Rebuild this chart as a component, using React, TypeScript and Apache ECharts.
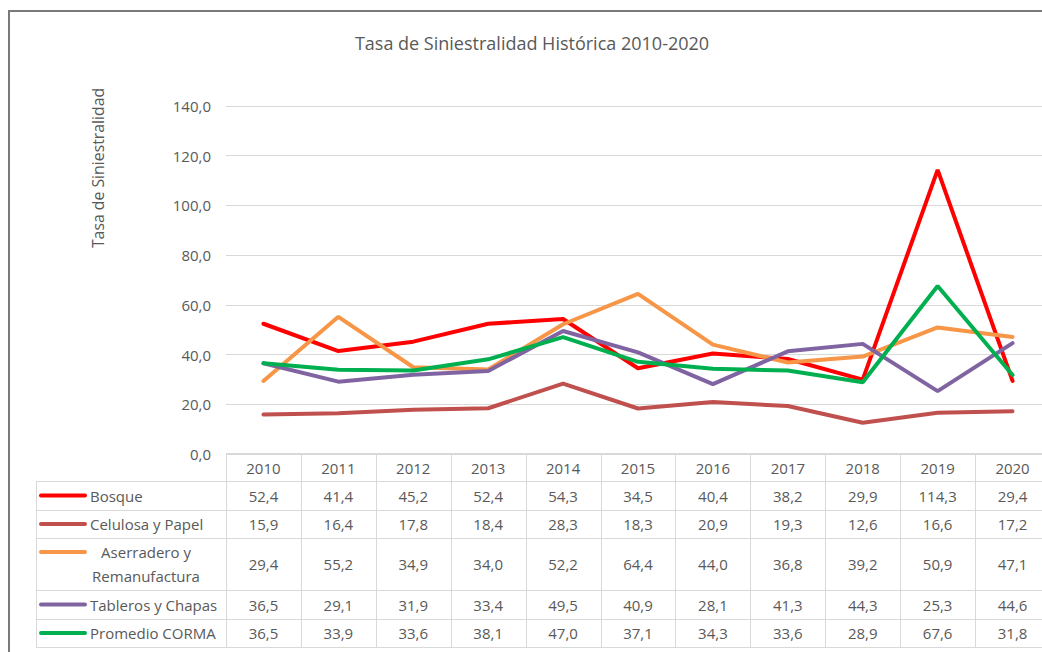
import React, { useEffect, useRef } from "react";
import * as echarts from "echarts";

const years = ["2010", "2011", "2012", "2013", "2014", "2015", "2016", "2017", "2018", "2019", "2020"];
const bosque = [52.4, 41.4, 45.2, 52.4, 54.3, 34.5, 40.4, 38.2, 29.9, 114.3, 29.4];
const celulosa = [15.9, 16.4, 17.8, 18.4, 28.3, 18.3, 20.9, 19.3, 12.6, 16.6, 17.2];
const aserradero = [29.4, 55.2, 34.9, 34.0, 52.2, 64.4, 44.0, 36.8, 39.2, 50.9, 47.1];
const tableros = [36.5, 29.1, 31.9, 33.4, 49.5, 40.9, 28.1, 41.3, 44.3, 25.3, 44.6];
const promedio = [36.5, 33.9, 33.6, 38.1, 47.0, 37.1, 34.3, 33.6, 28.9, 67.6, 31.8];

const seriesNames = ["Bosque", "Celulosa y Papel", "Aserradero y Remanufactura", "Tableros y Chapas", "Promedio CORMA"];
const seriesData = [bosque, celulosa, aserradero, tableros, promedio];
const seriesColors = ["#FF0000", "#C0504D", "#F79646", "#8064A2", "#00B050"];
const legendLines = [["Bosque"], ["Celulosa y Papel"], ["Aserradero y", "Remanufactura"], ["Tableros y Chapas"], ["Promedio CORMA"]];

const yTickMax = 140;
const yTickStep = 20;

const FONT = "Open Sans";
const TXT = "#595959";
const GRIDC = "#d9d9d9";

const fmt = (v: number) => v.toFixed(1).replace(".", ",");

export default function App() {
  const ref = useRef<HTMLDivElement>(null);
  useEffect(() => {
    if (!ref.current) return;
    const chart = echarts.init(ref.current, null, { renderer: "svg" });
    const gridTop = 106;
    const gridH = 348;
    const gridLeft = 226;
    const gridW = 824;
    chart.setOption({
      animation: false,
      backgroundColor: "#ffffff",
      textStyle: { fontFamily: FONT },
      title: {
        text: "Tasa de Siniestralidad Histórica 2010-2020",
        left: 527,
        top: 29,
        textAlign: "center",
        textStyle: { color: TXT, fontSize: 18, fontWeight: "normal", fontFamily: FONT },
      },
      grid: { left: gridLeft, top: gridTop, width: gridW, height: gridH, containLabel: false },
      xAxis: {
        type: "category",
        data: years,
        boundaryGap: true,
        axisLine: { show: false },
        axisTick: { show: false },
        axisLabel: { show: false },
        splitLine: { show: false },
      },
      yAxis: {
        type: "value",
        min: 0,
        max: yTickMax,
        interval: yTickStep,
        axisLine: { show: false },
        axisTick: { show: false },
        axisLabel: {
          color: TXT,
          fontSize: 15,
          fontFamily: FONT,
          margin: 15,
          formatter: (v: number) => fmt(v),
        },
        splitLine: { lineStyle: { color: GRIDC, width: 1 } },
      },
      series: seriesNames.map((name, i) => ({
        name,
        type: "line",
        data: seriesData[i],
        symbol: "none",
        lineStyle: { color: seriesColors[i], width: 4, cap: "round" },
        itemStyle: { color: seriesColors[i] },
        z: 2 + i,
      })),
    });

    const xs = years.map((y) => chart.convertToPixel({ xAxisIndex: 0 }, y) as number);
    const colW = xs.length > 1 ? xs[1] - xs[0] : gridW;
    const headerTop = gridTop + gridH;
    const rowBounds = [481, 510, 538, 590, 619, 647];
    const tableLeft = 36;
    const rightEdge = gridLeft + gridW;
    const els: any[] = [];
    const hline = (x1: number, x2: number, y: number) =>
      els.push({ type: "line", shape: { x1, y1: y + 0.5, x2, y2: y + 0.5 }, style: { stroke: GRIDC, lineWidth: 1 }, z: 10 });
    const vline = (x: number, y1: number, y2: number) =>
      els.push({ type: "line", shape: { x1: x + 0.5, y1, x2: x + 0.5, y2 }, style: { stroke: GRIDC, lineWidth: 1 }, z: 10 });

    hline(gridLeft, rightEdge, headerTop - 1);
    rowBounds.forEach((y) => hline(tableLeft, rightEdge, y));
    vline(tableLeft, rowBounds[0], rowBounds[rowBounds.length - 1]);
    for (let i = 0; i <= years.length; i++) {
      const x = Math.round(xs[0] - colW / 2 + i * colW);
      vline(x, headerTop - 1, rowBounds[rowBounds.length - 1]);
    }
    years.forEach((y, i) => {
      els.push({
        type: "text",
        x: xs[i],
        y: (headerTop + rowBounds[0]) / 2,
        style: { text: y, fill: TXT, font: `15px "${FONT}"`, textAlign: "center", textVerticalAlign: "middle" },
        z: 11,
      });
    });
    seriesData.forEach((arr, r) => {
      const cy = (rowBounds[r] + rowBounds[r + 1]) / 2;
      arr.forEach((v, i) => {
        els.push({
          type: "text",
          x: xs[i],
          y: cy,
          style: { text: fmt(v), fill: TXT, font: `15px "${FONT}"`, textAlign: "center", textVerticalAlign: "middle" },
          z: 11,
        });
      });
      const lines = legendLines[r];
      const keyY = lines.length > 1 ? cy - 12 : cy;
      els.push({
        type: "line",
        shape: { x1: 41, y1: keyY, x2: 85, y2: keyY },
        style: { stroke: seriesColors[r], lineWidth: 4, lineCap: "round" },
        z: 11,
      });
      lines.forEach((t, k) => {
        const multi = lines.length > 1;
        els.push({
          type: "text",
          x: multi ? 146 : 90,
          y: multi ? cy - 12 + k * 24 : cy,
          style: { text: t, fill: TXT, font: `15px "${FONT}"`, textAlign: multi ? "center" : "left", textVerticalAlign: "middle" },
          z: 11,
        });
      });
    });
    els.push({
      type: "text",
      x: 98,
      y: 168,
      rotation: Math.PI / 2,
      style: { text: "Tasa de Siniestralidad", fill: TXT, font: `15.8px "${FONT}"`, textAlign: "center", textVerticalAlign: "middle" },
      z: 11,
    });
    els.push({
      type: "rect",
      shape: { x: 9, y: 11, width: 1200, height: 1000 },
      style: { fill: "none", stroke: "#7a7a7a", lineWidth: 2 },
      z: 12,
    });
    chart.setOption({ graphic: els });
    return () => chart.dispose();
  }, []);
  return (
    <div style={{ position: "fixed", left: 0, top: 0, width: 1042, height: 652, overflow: "hidden", background: "#fff" }}>
      <div ref={ref} style={{ width: 1060, height: 652 }} />
    </div>
  );
}
